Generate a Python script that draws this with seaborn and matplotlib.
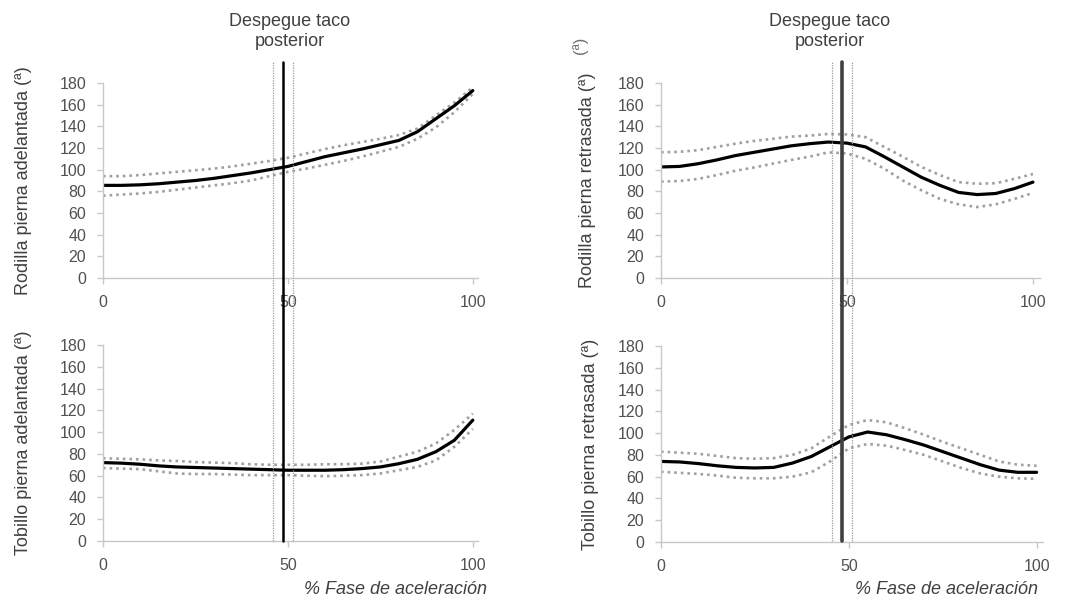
import matplotlib
matplotlib.use("Agg")
import matplotlib.pyplot as plt
import numpy as np
import pandas as pd
import seaborn as sns
from matplotlib.lines import Line2D
from matplotlib.transforms import blended_transform_factory

# % of the acceleration phase
pct = list(range(0, 101, 5))

# Knee, front leg (mean, mean + SD, mean - SD)
rodilla_adel_media = [85.5, 85.5, 86, 87, 88.5, 90, 92, 94.5, 97, 100, 103, 107.5, 112, 115.5, 119, 123, 127, 135, 147, 159, 173]
rodilla_adel_sup = [94, 94, 95, 96.5, 98, 99.5, 101, 103, 105.5, 108, 111, 115, 119, 122.5, 125.5, 128.5, 132, 138, 150, 162, 176]
rodilla_adel_inf = [76, 77, 78, 79.5, 81.5, 83.5, 85.5, 87.5, 90, 94, 98, 101, 104.5, 108, 112, 116.5, 121, 128.5, 139, 153, 170]

# Knee, rear leg
rodilla_retr_media = [102.5, 103, 105.5, 109, 113, 116, 119, 122, 124, 125.5, 124.5, 121, 112, 102.5, 93, 85.5, 79, 77, 78, 82.5, 88.5]
rodilla_retr_sup = [116, 116.5, 118, 121, 124, 126.5, 128.5, 130.5, 131.5, 133, 132.5, 130, 121, 112, 102.5, 95, 88.5, 87, 87.5, 91.5, 96]
rodilla_retr_inf = [89, 89.5, 91.5, 95, 99, 102, 105.5, 109, 112, 116, 115, 110, 101, 90, 81, 73, 68, 65.5, 68, 73, 78.5]

# Ankle, front leg
tobillo_adel_media = [72, 71.5, 70.5, 69, 68, 67.5, 67, 66.5, 66, 65.5, 65, 65, 65, 65.5, 66.5, 68, 71, 75, 82, 92.5, 111]
tobillo_adel_sup = [76, 75.5, 75, 74, 73.5, 72.5, 72, 71.5, 70.5, 70, 70, 70, 70.5, 70.5, 71, 73, 77.5, 82, 89.5, 102, 117]
tobillo_adel_inf = [67, 66.5, 66, 64, 62, 61.5, 61.5, 61, 60.5, 60.5, 60.5, 60, 59.5, 60, 60.5, 62, 65, 68, 74, 86.5, 103]

# Ankle, rear leg
tobillo_retr_media = [74, 73.5, 72, 70, 68.5, 68, 68.5, 72.5, 78.5, 87.5, 96.5, 101, 98.5, 94, 89, 83, 77, 71, 66, 64, 64]
tobillo_retr_sup = [83, 82, 81, 79, 77, 76.5, 77, 80, 86, 97, 107.5, 112, 110, 104.5, 98.5, 92, 86, 80, 74, 71, 70]
tobillo_retr_inf = [64.5, 63.5, 62.5, 61, 59, 58.5, 58.5, 60, 64, 74, 86, 90, 88.5, 84.5, 80, 74, 68, 63, 60, 58.5, 58]

# Rear block take-off instant (% of phase): mean and SD
despegue_media = 48.7
despegue_sd = 2.6

y_ticks = [0, 20, 40, 60, 80, 100, 120, 140, 160, 180]
x_ticks = [0, 50, 100]

ylabels = [
    "Rodilla pierna adelantada (ª)",
    "Rodilla pierna retrasada (ª)",
    "Tobillo pierna adelantada (ª)",
    "Tobillo pierna retrasada (ª)",
]
titulo = "Despegue taco\nposterior"
xlabel = "% Fase de aceleración"

series = [
    (rodilla_adel_media, rodilla_adel_sup, rodilla_adel_inf),
    (rodilla_retr_media, rodilla_retr_sup, rodilla_retr_inf),
    (tobillo_adel_media, tobillo_adel_sup, tobillo_adel_inf),
    (tobillo_retr_media, tobillo_retr_sup, tobillo_retr_inf),
]

sns.set_theme(style="white")
plt.rcParams['font.family'] = ['Liberation Sans', 'DejaVu Sans']

W, H = 1084, 600
fig = plt.figure(figsize=(W / 100, H / 100), dpi=100)


def px_axes(x0, x1, y_top, y_bot):
    return fig.add_axes([x0 / W, 1 - y_bot / H, (x1 - x0) / W, (y_bot - y_top) / H])


axes = [
    px_axes(103, 478, 83, 278),
    px_axes(661, 1040, 83, 278),
    px_axes(103, 478, 345, 541),
    px_axes(661, 1043, 346, 542),
]
xmax = [101.4, 101.9, 101.4, 101.7]
label_x = [-0.19, -0.172, -0.19, -0.163]

dot_style = (0, (1, 1.5))
for i, (ax, (media, sup, inf)) in enumerate(zip(axes, series)):
    df = pd.DataFrame({"pct": pct, "media": media, "sup": sup, "inf": inf})
    sns.lineplot(data=df, x="pct", y="sup", ax=ax, color="#a0a0a0", lw=1.9, linestyle=dot_style)
    sns.lineplot(data=df, x="pct", y="inf", ax=ax, color="#a0a0a0", lw=1.9, linestyle=dot_style)
    sns.lineplot(data=df, x="pct", y="media", ax=ax, color="black", lw=2.3)
    ax.set_xlim(0, xmax[i])
    ax.set_ylim(0, 180)
    ax.set_yticks(y_ticks)
    ax.set_xticks(x_ticks)
    ax.set_xlabel("")
    ax.set_ylabel(ylabels[i], fontsize=13, color="#404040")
    ax.yaxis.set_label_coords(label_x[i], 0.5)
    for s in ("top", "right"):
        ax.spines[s].set_visible(False)
    for s in ("left", "bottom"):
        ax.spines[s].set_color("#c8c8c8")
        ax.spines[s].set_linewidth(1.0)
    ax.tick_params(axis="both", bottom=True, left=True, length=4, width=1,
                   color="#c8c8c8", labelcolor="#505050", labelsize=11.5, pad=8)
    ax.patch.set_alpha(0)

# Take-off markers spanning both rows of each column
for top_ax, lw_main, col_main in [(axes[0], 1.8, "black"), (axes[1], 2.6, "#404040")]:
    tr = blended_transform_factory(top_ax.transData, fig.transFigure)
    y0 = 1 - 541 / H
    y1 = 1 - 62 / H
    for xv in (despegue_media - despegue_sd, despegue_media + despegue_sd):
        fig.add_artist(Line2D([xv, xv], [y0, y1], transform=tr, color="#9a9a9a",
                              lw=0.9, linestyle=(0, (1, 1))))
    fig.add_artist(Line2D([despegue_media, despegue_media], [y0, y1], transform=tr,
                          color=col_main, lw=lw_main))

# Titles above the take-off markers
fig.text(290 / W, 1 - 31.5 / H, titulo, ha="center", va="center", fontsize=13,
         color="#404040", linespacing=1.25)
fig.text(830 / W, 1 - 31.5 / H, titulo, ha="center", va="center", fontsize=13,
         color="#404040", linespacing=1.25)
fig.text(580 / W, 1 - 45 / H, "(ª)", rotation=90, ha="center", va="center",
         fontsize=12, color="#707070")

# x-axis captions
fig.text(487 / W, 1 - 590 / H, xlabel, ha="right", va="center", fontsize=13,
         style="italic", color="#404040")
fig.text(1038 / W, 1 - 590 / H, xlabel, ha="right", va="center", fontsize=13,
         style="italic", color="#404040")

fig.savefig("out.png", dpi=100, facecolor="white")
